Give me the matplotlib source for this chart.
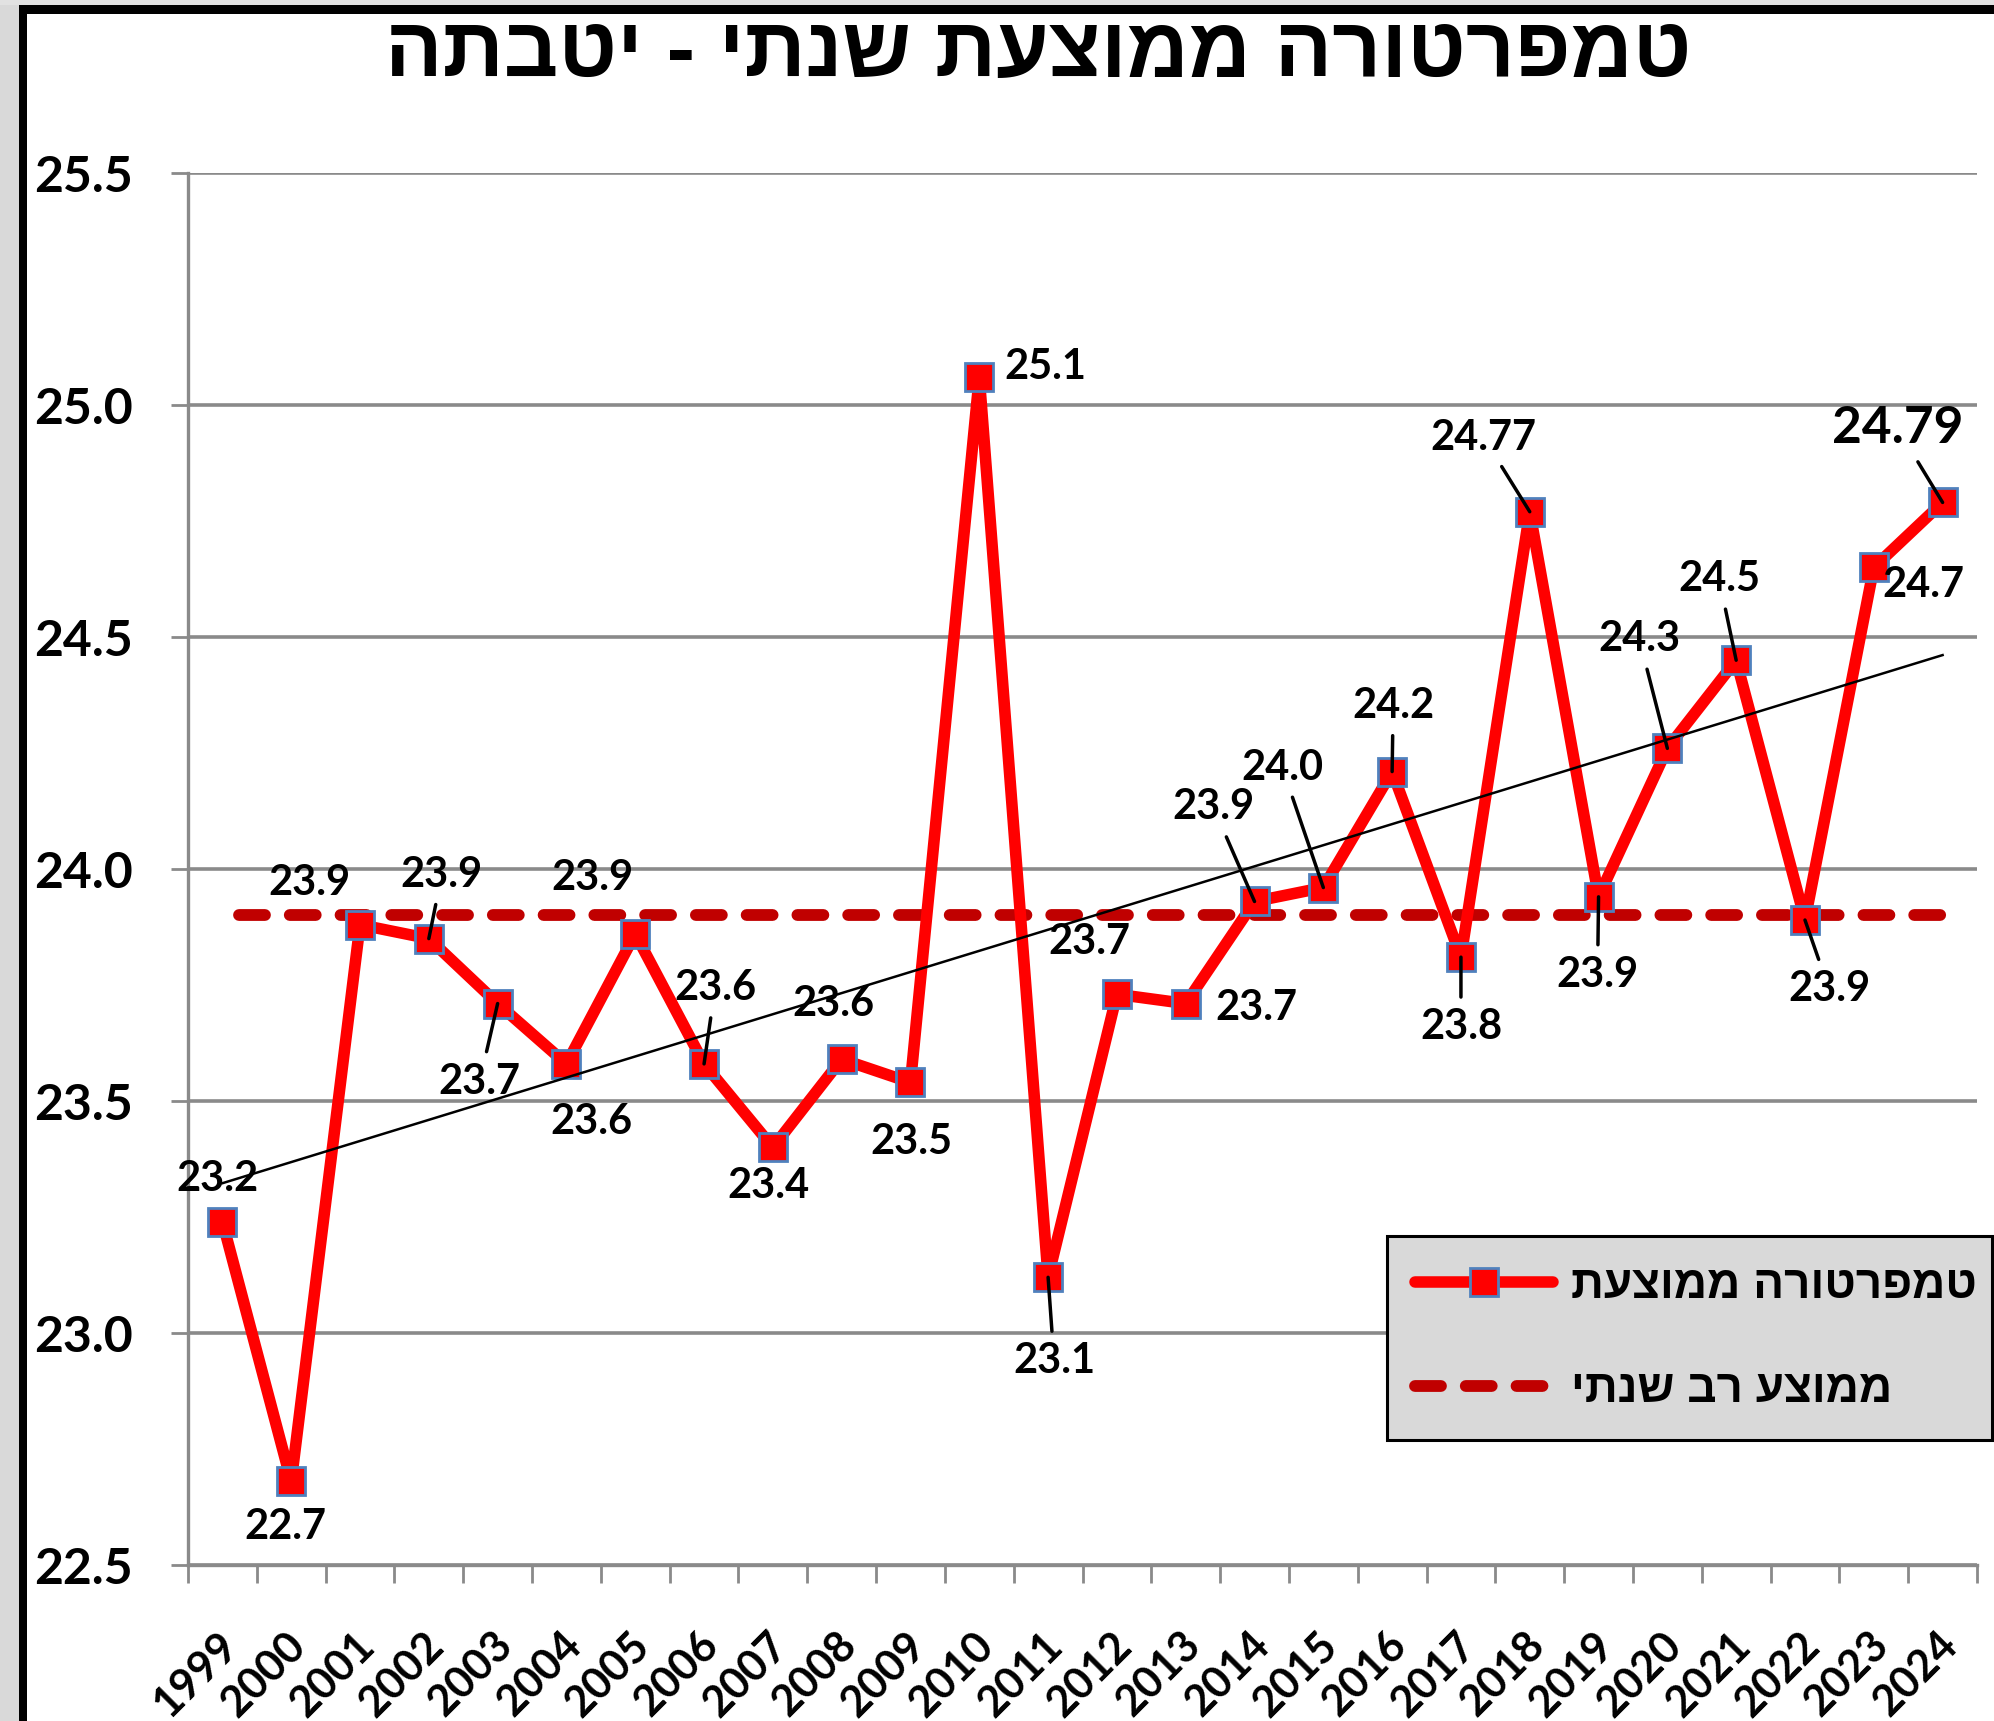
import numpy as np
import matplotlib
matplotlib.use("Agg")
import matplotlib.pyplot as plt
from matplotlib.lines import Line2D
from matplotlib.patches import Rectangle
from matplotlib.transforms import ScaledTranslation

# ---------------- data ----------------
years = ["1999", "2000", "2001", "2002", "2003", "2004", "2005", "2006", "2007",
         "2008", "2009", "2010", "2011", "2012", "2013", "2014", "2015", "2016",
         "2017", "2018", "2019", "2020", "2021", "2022", "2023", "2024"]
avg_temp = [23.24, 22.68, 23.88, 23.85, 23.71, 23.58, 23.86, 23.58, 23.40,
            23.59, 23.54, 25.06, 23.12, 23.73, 23.71, 23.93, 23.96, 24.21,
            23.81, 24.77, 23.94, 24.26, 24.45, 23.89, 24.65, 24.79]
value_labels = ["23.2", "22.7", "23.9", "23.9", "23.7", "23.6", "23.9", "23.6", "23.4",
                "23.6", "23.5", "25.1", "23.1", "23.7", "23.7", "23.9", "24.0", "24.2",
                "23.8", "24.77", "23.9", "24.3", "24.5", "23.9", "24.7", "24.79"]
multi_year_avg = 23.9
y_ticks = [22.5, 23.0, 23.5, 24.0, 24.5, 25.0, 25.5]
title_text = "טמפרטורה ממוצעת שנתי - יטבתה"
legend_labels = ["טמפרטורה ממוצעת", "ממוצע רב שנתי"]

# ---------------- label placement (pixel offsets, y up) ----------------
label_offsets = [(-5, 43), (-6, -46), (-51, 42), (13, 64), (-18, -78), (25, -58),
                 (-43, 56), (11, 76), (-4, -39), (-8, 55), (1, -60), (66, 10),
                 (6, -84), (-28, 52), (71, -4), (-41, 94), (-41, 120), (1, 66),
                 (0, -70), (-46, 74), (-1, -78), (-28, 109), (-17, 81), (24, -69),
                 (50, -18), (-45, 74)]
leader = [False, False, False, True, True, False, False, True, False, False, False,
          False, True, False, False, True, True, True, True, True, True, True,
          True, True, False, True]
big_label = [False] * 25 + [True]


def rtl(s):
    return s[::-1]


W, H = 1994, 1721
fig = plt.figure(figsize=(W / 100, H / 100), dpi=100, facecolor="white")

# frame decorations
fig.add_artist(Rectangle((0, 0), 19 / W, 1, transform=fig.transFigure,
                         color="#d9d9d9", lw=0, zorder=0))
fig.add_artist(Rectangle((0, 1 - 5 / H), 1, 5 / H, transform=fig.transFigure,
                         color="#e2e2e2", lw=0, zorder=0))
fig.add_artist(Rectangle((19 / W, 0), 8 / W, 1 - 5 / H, transform=fig.transFigure,
                         color="black", lw=0, zorder=1))
fig.add_artist(Rectangle((19 / W, 1 - 14 / H), 1 - 19 / W, 9 / H,
                         transform=fig.transFigure, color="black", lw=0, zorder=1))

ax = fig.add_axes([188 / W, 1 - 1565 / H, (1977 - 188) / W, (1565 - 173) / H])
ax.set_facecolor("white")

x = np.arange(len(years))
vals = np.array(avg_temp)

grid_col = "#8a8a8a"
for yv in y_ticks:
    ax.axhline(yv, color=grid_col, lw=2.6, zorder=0.5)

# multi-year average
avg_line, = ax.plot(x, [multi_year_avg] * len(x), color="#c00000", lw=8.5,
                    dash_capstyle="round", zorder=2,
                    linestyle=(2.86, (2.2, 2.1)))

# annual average temperatures
ser_line, = ax.plot(x, vals, color="#ff0000", lw=8.3, marker="s", markersize=20,
                    markerfacecolor="#ff0000", markeredgecolor="#4f81bd",
                    markeredgewidth=2, solid_joinstyle="round",
                    solid_capstyle="round", zorder=3)

# linear trend
coef = np.polyfit(x, vals, 1)
ax.plot(x, np.polyval(coef, x), color="black", lw=1.8, zorder=4)

# data labels
for i, (v, lbl) in enumerate(zip(vals, value_labels)):
    dx, dy = label_offsets[i]
    ap = None
    if leader[i]:
        ap = dict(arrowstyle="-", color="black", lw=2.5, shrinkA=6, shrinkB=0)
    ax.annotate(lbl, xy=(i, v), xytext=(dx, dy), textcoords="offset pixels",
                ha="center", va="center", fontsize=37 if big_label[i] else 30,
                fontweight="bold", family=["Lato", "DejaVu Sans"],
                color="black", arrowprops=ap, zorder=6, annotation_clip=False)

ax.set_xlim(-0.5, len(years) - 0.5)
ax.set_ylim(22.5, 25.5)
ax.set_yticks(y_ticks)
ax.set_yticklabels([f"{t:.1f}" for t in y_ticks])
ax.set_xticks(x)
ax.set_xticklabels(years)
ax.set_xticks(np.arange(-0.5, len(years)), minor=True)

for s in ["top", "right"]:
    ax.spines[s].set_visible(False)
for s in ["left", "bottom"]:
    ax.spines[s].set_color(grid_col)
    ax.spines[s].set_linewidth(2.4)

ax.tick_params(axis="y", which="major", length=12, width=2, color=grid_col,
               pad=28, labelsize=36)
ax.tick_params(axis="x", which="major", length=0, pad=53, labelsize=31)
ax.tick_params(axis="x", which="minor", length=13, width=2, color=grid_col)
for lab in ax.get_yticklabels():
    lab.set_fontfamily(["Lato", "DejaVu Sans"])
    lab.set_fontweight("bold")
shift = ScaledTranslation(8 / 100, 0, fig.dpi_scale_trans)
for lab in ax.get_xticklabels():
    lab.set_fontfamily(["Lato", "DejaVu Sans"])
    lab.set_fontweight("bold")
    lab.set_rotation(45)
    lab.set_rotation_mode("anchor")
    lab.set_ha("right")
    lab.set_va("center")
    lab.set_transform(lab.get_transform() + shift)

# title
fig.text(1038 / W, 1 - 55 / H, rtl(title_text), ha="center", va="center",
         fontsize=61.5, fontweight="bold", family=["Liberation Sans", "DejaVu Sans"])

# legend
h1 = Line2D([], [], color="#ff0000", lw=8.3, marker="s", markersize=20,
            markerfacecolor="#ff0000", markeredgecolor="#4f81bd", markeredgewidth=2,
            solid_capstyle="round")
h2 = Line2D([], [], color="#c00000", lw=8.5, dash_capstyle="round",
            linestyle=(0, (2.2, 2.1)))
leg_top = 1 - 1236 / H
leg = ax.legend([h1, h2], [rtl(t) for t in legend_labels], loc="upper left",
                bbox_to_anchor=(1387 / W, leg_top - 0.05, (1992 - 1387) / W, 0.05),
                bbox_transform=fig.transFigure, mode="expand", borderaxespad=0,
                numpoints=1, handlelength=3.0, handletextpad=0.39,
                labelspacing=1.3, borderpad=0.62, fancybox=False, framealpha=1,
                prop=dict(family=["Liberation Sans", "DejaVu Sans"], weight="bold", size=33))
leg.get_frame().set_facecolor("#d9d9d9")
leg.get_frame().set_edgecolor("black")
leg.get_frame().set_linewidth(2.2)
leg.set_zorder(10)

fig.savefig("out.png", dpi=100, facecolor="white")
